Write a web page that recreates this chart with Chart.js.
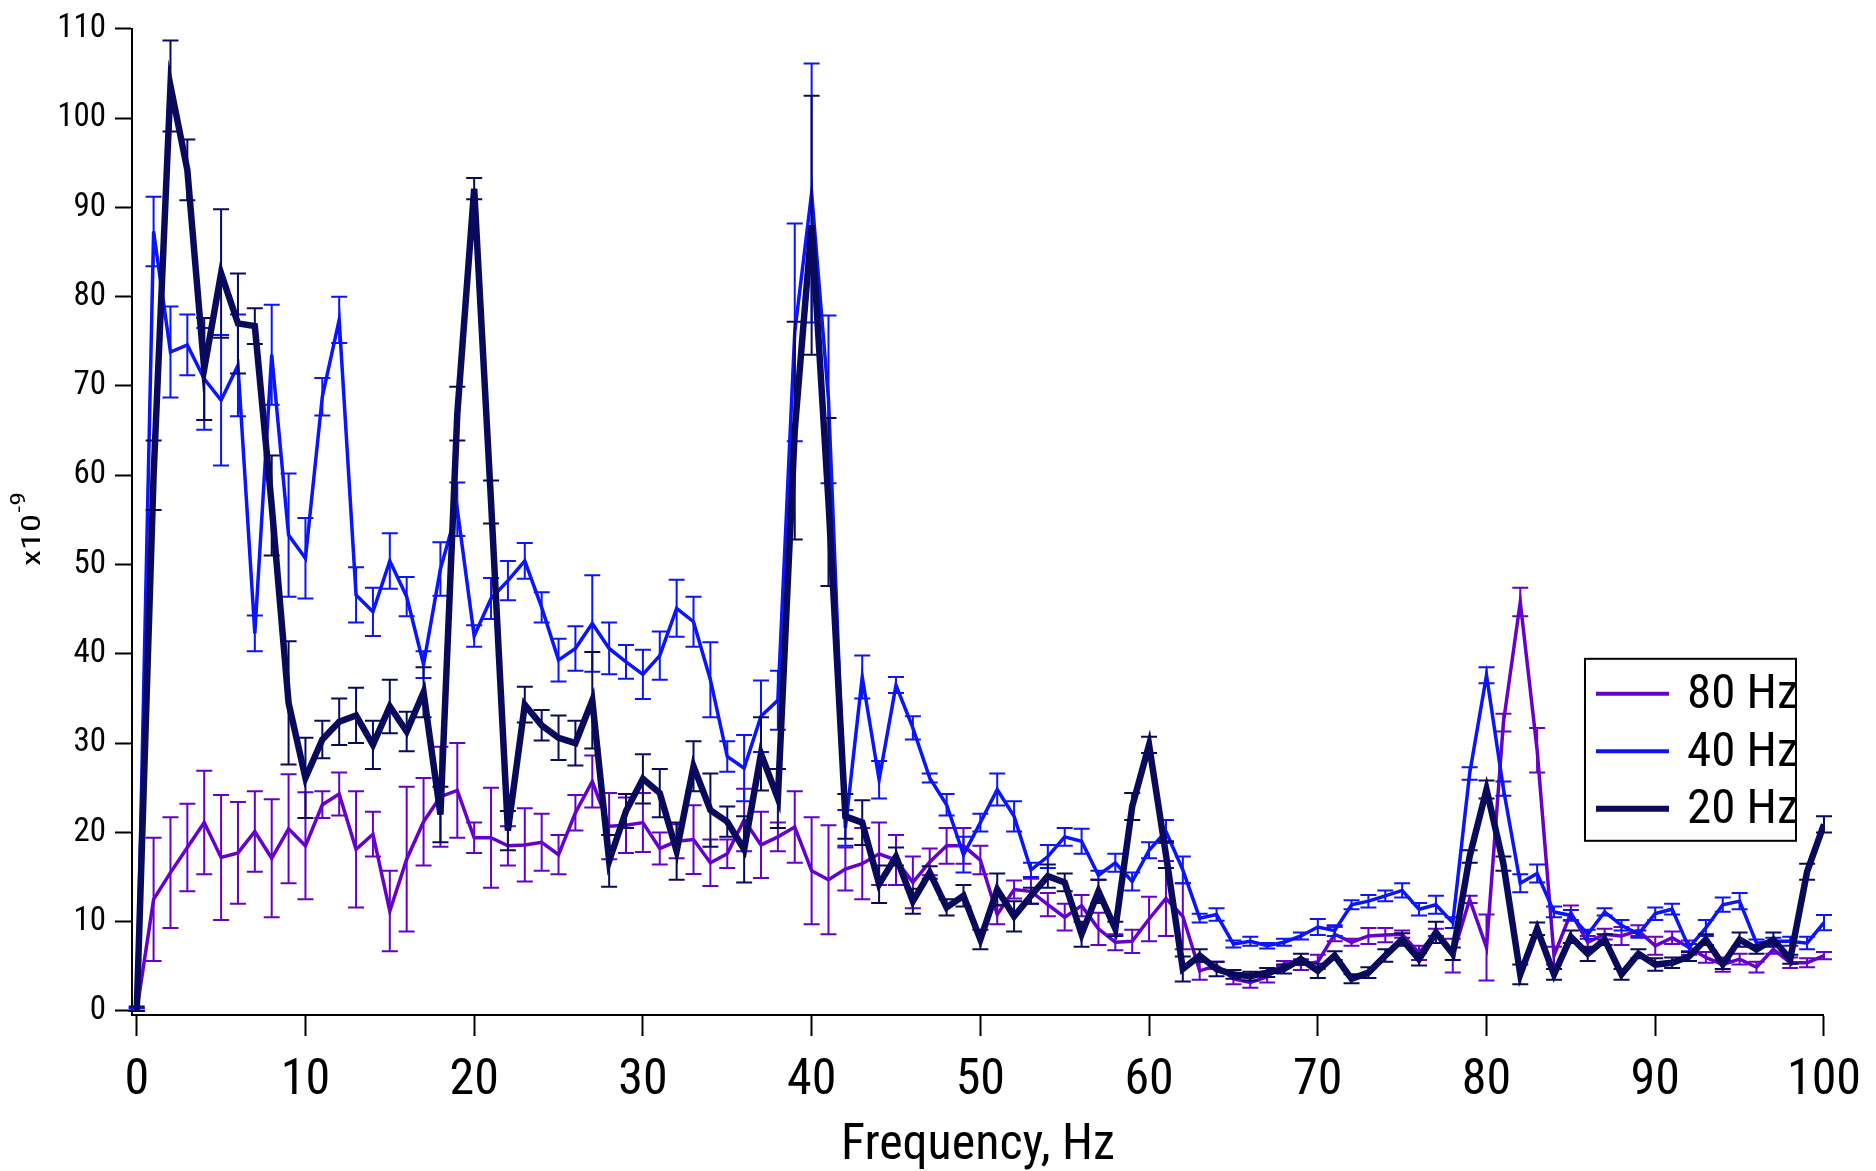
<!DOCTYPE html>
<html>
<head>
<meta charset="utf-8">
<script src="https://cdn.jsdelivr.net/npm/chart.js@4.4.0/dist/chart.umd.min.js"></script>
<style>
html,body{margin:0;padding:0;background:#fff;}
#wrap{width:1876px;height:1171px;position:relative;}
canvas{display:block;}
</style>
</head>
<body>
<div id="wrap"><canvas id="c" width="1876" height="1171"></canvas></div>
<script>
// ---------- data ----------
const frequency = [0,1,2,3,4,5,6,7,8,9,10,11,12,13,14,15,16,17,18,19,20,21,22,23,24,25,26,27,28,29,30,31,32,33,34,35,36,37,38,39,40,41,42,43,44,45,46,47,48,49,50,51,52,53,54,55,56,57,58,59,60,61,62,63,64,65,66,67,68,69,70,71,72,73,74,75,76,77,78,79,80,81,82,83,84,85,86,87,88,89,90,91,92,93,94,95,96,97,98,99,100];

const seriesLabels = ["80 Hz", "40 Hz", "20 Hz"];

const values80 = [0,12.5,15.5,18.3,21.1,17.2,17.7,20.1,17.1,20.4,18.5,23.1,24.3,18.1,19.8,11.2,17.0,21.2,24.0,24.7,19.4,19.4,18.5,18.6,18.9,17.5,22.2,25.7,20.7,20.8,21.1,18.2,19.0,19.2,16.6,17.6,21.4,18.6,19.5,20.6,15.7,14.7,15.9,16.5,17.6,16.9,14.4,16.7,18.5,18.5,16.9,10.8,13.6,13.4,11.9,10.5,11.8,9.2,7.7,7.8,10.3,12.6,10.6,4.5,5.1,3.6,3.2,3.8,5.3,5.2,5.5,8.6,7.7,8.4,8.5,8.6,6.5,8.8,6.2,12.5,7.1,32.3,45.8,29.2,6.2,11.0,7.7,8.6,8.4,9.0,7.3,8.2,7.1,6.0,5.2,5.8,4.9,6.9,5.4,5.4,6.2];
const errors80 = [0.3,6.9,6.2,4.9,5.8,7.0,5.7,4.5,6.6,6.1,6.0,1.5,2.4,6.5,2.5,4.5,8.1,4.9,5.6,5.3,1.7,5.6,2.2,4.1,3.2,2.2,2.0,2.9,3.7,3.1,3.3,1.8,1.9,3.85,2.6,1.6,3.5,3.7,1.6,4.0,6.0,6.1,2.4,4.0,3.5,2.8,2.9,1.5,2.0,2.0,1.6,1.1,1.0,1.4,1.3,1.5,1.2,1.8,0.9,1.3,2.5,4.2,3.7,1.0,0.4,0.6,0.6,0.6,0.3,0.6,0.8,0.8,0.4,0.9,0.8,0.4,0.8,0.4,1.9,0.4,3.7,1.0,1.6,2.5,1.0,0.8,0.7,0.6,1.0,0.6,1.0,0.7,0.8,0.6,0.8,0.6,0.6,0.5,0.6,0.5,0.4];

const values40 = [0,87.3,73.8,74.6,70.8,68.4,72.3,42.3,73.5,53.3,50.7,68.8,77.4,46.6,44.7,50.4,46.4,38.8,49.5,56.2,42.0,46.2,48.2,50.4,45.2,39.3,40.6,43.4,40.6,39.1,37.7,39.8,45.1,43.6,37.1,28.5,27.2,33.0,34.8,76.0,91.6,68.5,20.5,37.4,25.9,36.5,31.7,26.1,23.1,17.5,21.1,24.8,21.8,15.8,17.3,19.5,19.0,15.2,16.6,14.5,18.0,20.1,15.8,10.4,10.8,7.5,7.8,7.3,7.7,8.4,9.4,9.0,11.9,12.3,12.9,13.5,11.4,11.9,9.9,26.6,37.6,24.9,14.3,15.4,11.1,10.7,8.6,11.1,9.6,8.6,10.9,11.4,7.1,9.3,11.9,12.3,7.6,7.8,7.8,7.6,9.9];
const errors40 = [0.3,3.9,5.1,3.4,5.7,7.3,5.7,2.0,5.6,6.9,4.5,2.1,2.6,3.1,2.7,3.1,2.2,1.5,3.0,3.0,1.2,2.3,2.2,2.0,1.7,2.4,2.5,5.4,2.9,1.9,2.75,2.7,3.2,2.8,4.2,1.7,3.7,4.0,3.3,12.2,14.5,9.4,2.0,2.4,2.1,0.9,1.3,0.5,1.2,2.0,1.0,1.8,1.7,0.8,1.3,1.0,1.4,0.5,1.0,1.0,0.9,1.3,1.5,0.5,0.7,0.4,0.5,0.3,0.4,0.4,0.9,0.6,0.5,0.7,0.6,0.8,0.7,1.0,0.6,0.7,0.9,0.8,1.0,1.0,0.6,0.6,0.5,0.4,0.6,0.4,0.7,0.6,0.4,0.9,0.8,0.9,0.4,0.4,0.5,0.7,0.85];

const values20 = [0,60.0,103.6,94.2,71.9,82.6,77.0,76.7,56.6,34.5,26.1,30.4,32.4,33.1,29.8,34.1,31.3,35.7,22.0,66.9,92.1,57.0,20.2,34.3,32.0,30.6,30.0,34.8,16.8,22.4,26.0,24.4,17.9,27.4,22.5,21.2,18.1,28.8,23.8,65.0,88.0,57.0,21.8,21.1,14.2,17.3,12.3,15.5,11.6,12.9,8.0,13.6,10.6,12.9,15.1,14.4,8.6,13.4,9.2,22.9,29.8,17.5,4.7,6.2,4.7,4.1,3.9,4.3,4.7,5.8,4.5,6.2,3.6,4.3,6.2,8.0,5.8,8.8,6.4,17.3,24.8,16.5,4.1,9.2,4.1,8.3,6.4,8.0,4.1,6.4,5.2,5.4,6.1,8.0,5.2,8.0,6.9,8.0,5.8,15.6,20.9];
const errors20 = [0.5,3.9,5.1,3.4,5.7,7.2,5.6,2.0,5.6,6.9,4.5,2.1,2.6,3.1,2.7,3.0,2.2,2.8,3.1,3.0,1.2,2.4,2.2,2.0,1.7,2.5,2.5,5.4,2.9,1.9,2.75,2.7,3.2,2.8,4.1,1.7,3.7,4.1,3.3,12.2,14.5,9.4,2.5,2.5,2.1,1.0,1.4,0.7,0.9,1.2,1.1,1.8,1.7,0.9,1.3,1.0,1.4,1.3,0.8,1.5,0.9,1.5,1.4,0.7,0.8,0.5,0.5,0.5,0.5,0.6,0.8,0.5,0.5,0.6,0.7,0.7,0.7,1.2,0.7,0.7,1.0,0.8,1.1,0.7,0.6,0.7,0.8,0.6,0.6,0.5,0.7,0.6,0.5,0.6,0.5,0.8,0.5,0.8,0.5,0.9,0.9];

const xTicks = [0,10,20,30,40,50,60,70,80,90,100];
const yTicks = [0,10,20,30,40,50,60,70,80,90,100,110];
const xTitle = "Frequency, Hz";
const yTitleBase = "x10";
const yTitleExp = "-9";

// ---------- styling ----------
const FONT = '"Liberation Sans Narrow", "Arial Narrow", "Roboto Condensed", "DejaVu Sans Condensed", "Liberation Sans", sans-serif';
const colors = ["#6600cc", "#0a14ff", "#0a0a5c"];
const lineWidths = [3.5, 3.5, 6.5];
const legendLineWidths = [4, 4, 6];

function pts(vals){ return frequency.map((f,i)=>({x:f, y:vals[i]})); }

const datasets = [
  {label: seriesLabels[0], data: pts(values80), errors: errors80, borderColor: colors[0], borderWidth: lineWidths[0], order: 2},
  {label: seriesLabels[1], data: pts(values40), errors: errors40, borderColor: colors[1], borderWidth: lineWidths[1], order: 1},
  {label: seriesLabels[2], data: pts(values20), errors: errors20, borderColor: colors[2], borderWidth: lineWidths[2], order: 0}
].map(d => Object.assign(d, {fill:false, pointRadius:0, tension:0, borderJoinStyle:'miter', borderCapStyle:'butt'}));

const errorBarPlugin = {
  id: 'errorBars',
  afterDatasetDraw(chart, args) {
    const ds = chart.data.datasets[args.index];
    if (!ds.errors) return;
    const xs = chart.scales.x, ys = chart.scales.y, ctx = chart.ctx;
    ctx.save();
    ctx.strokeStyle = ds.borderColor;
    ctx.lineWidth = 2;
    ctx.beginPath();
    ds.data.forEach((p, i) => {
      const e = ds.errors[i];
      if (!e) return;
      const px = xs.getPixelForValue(p.x);
      const t = ys.getPixelForValue(p.y + e);
      const b = ys.getPixelForValue(Math.max(p.y - e, 0));
      ctx.moveTo(px, t); ctx.lineTo(px, b);
      ctx.moveTo(px - 8, t); ctx.lineTo(px + 8, t);
      ctx.moveTo(px - 8, b); ctx.lineTo(px + 8, b);
    });
    ctx.stroke();
    ctx.restore();
  }
};

const legendPlugin = {
  id: 'boxLegend',
  afterDraw(chart) {
    const ctx = chart.ctx;
    const area = chart.chartArea;
    const x0 = area.right - 239, y0 = area.top + 630, w = 211, h = 182;
    ctx.save();
    ctx.fillStyle = '#fff';
    ctx.fillRect(x0, y0, w, h);
    ctx.strokeStyle = '#000';
    ctx.lineWidth = 2;
    ctx.strokeRect(x0, y0, w, h);
    ctx.font = '49px ' + FONT;
    ctx.textBaseline = 'middle';
    ctx.textAlign = 'left';
    chart.data.datasets.forEach((ds, i) => {
      const cy = y0 + 35 + i * 57.5;
      ctx.strokeStyle = ds.borderColor;
      ctx.lineWidth = legendLineWidths[i];
      ctx.beginPath();
      ctx.moveTo(x0 + 11, cy); ctx.lineTo(x0 + 84, cy);
      ctx.stroke();
      ctx.fillStyle = '#000';
      ctx.fillText(ds.label, x0 + 102, cy + 2);
    });
    ctx.restore();
  }
};

const yTitlePlugin = {
  id: 'yTitle',
  afterDraw(chart) {
    const ctx = chart.ctx;
    ctx.save();
    ctx.translate(40, 566);
    ctx.rotate(-Math.PI / 2);
    ctx.scale(1.4, 1);
    ctx.fillStyle = '#000';
    ctx.textAlign = 'left';
    ctx.textBaseline = 'alphabetic';
    ctx.font = '26px ' + FONT;
    ctx.fillText(yTitleBase, 0, 0);
    const wBase = ctx.measureText(yTitleBase).width;
    ctx.font = '20px ' + FONT;
    ctx.fillText(yTitleExp, wBase + 1, -15);
    ctx.restore();
  }
};

new Chart(document.getElementById('c'), {
  type: 'line',
  data: { datasets },
  plugins: [errorBarPlugin, legendPlugin, yTitlePlugin],
  options: {
    responsive: false,
    animation: false,
    devicePixelRatio: 1,
    layout: { padding: { left: 0, right: 50, top: 26, bottom: 0 } },
    plugins: { legend: { display: false }, tooltip: { enabled: false } },
    scales: {
      x: {
        type: 'linear', min: -0.28, max: 100,
        afterBuildTicks: ax => { ax.ticks = xTicks.map(v => ({ value: v })); },
        afterFit: ax => { ax.height = 156; },
        grid: { drawOnChartArea: false, drawTicks: true, tickLength: 21, tickWidth: 2, tickColor: '#000' },
        border: { display: true, color: '#000', width: 2 },
        ticks: { color: '#000', font: { family: FONT, size: 50 }, padding: 15, maxRotation: 0, autoSkip: false },
        title: { display: true, text: xTitle, color: '#000', font: { family: FONT, size: 50 }, padding: { top: 0, bottom: -5 } }
      },
      y: {
        type: 'linear', min: -0.45, max: 110,
        afterBuildTicks: ax => { ax.ticks = yTicks.map(v => ({ value: v })); },
        afterFit: ax => { ax.width = 132; },
        grid: { drawOnChartArea: false, drawTicks: true, tickLength: 17, tickWidth: 2, tickColor: '#000' },
        border: { display: true, color: '#000', width: 2 },
        ticks: { color: '#000', font: { family: FONT, size: 33 }, padding: 9 }
      }
    }
  }
});
</script>
</body>
</html>
